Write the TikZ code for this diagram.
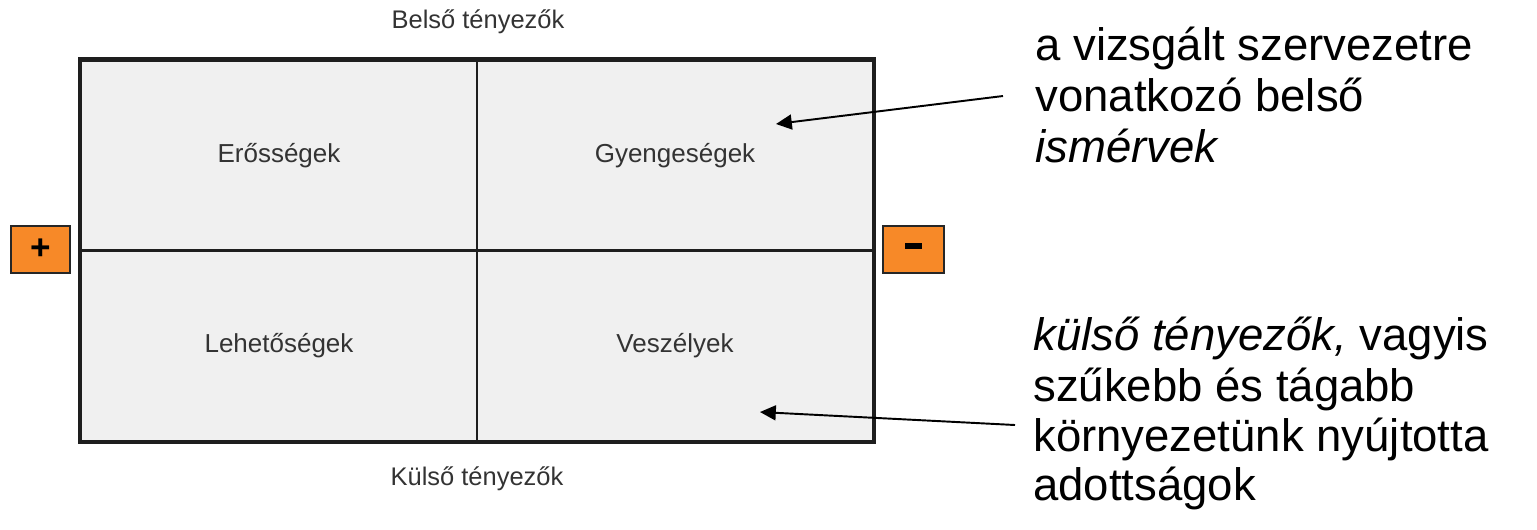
\documentclass[tikz,border=0pt]{standalone}
\usepackage{fontspec}
\setmainfont{Liberation Sans}
\usetikzlibrary{arrows.meta}
\definecolor{quadfill}{RGB}{240,240,240}
\definecolor{signorange}{RGB}{247,137,40}
\definecolor{gridline}{RGB}{30,30,30}
\begin{document}
\begin{tikzpicture}[x=0.02cm,y=-0.02cm,
  quad/.style={draw=gridline,line width=1.5pt,fill=quadfill,minimum width=7.92cm,minimum height=3.81cm,inner sep=0pt,font=\fontsize{14.8}{17}\selectfont,text=black!80},
  axislabel/.style={anchor=base,font=\fontsize{14.5}{17}\selectfont,text=black!80},
  signbox/.style={draw=black!85,line width=1.1pt,fill=signorange,minimum height=0.94cm,inner sep=0pt,font=\fontsize{20}{22}\bfseries\selectfont},
  note/.style={anchor=base west,font=\fontsize{25.9}{28}\selectfont,inner sep=0pt},
  pointer/.style={line width=1.1pt,-{Triangle[length=9pt,width=8.5pt]}}]
\useasboundingbox (0,0) rectangle (1537,529);
% quadrants
\node[quad] (q1) at (279,155.5) {Erősségek};
\node[quad] (q2) at (675,155.5) {Gyengeségek};
\node[quad] (q3) at (279,346) {Lehetőségek};
\node[quad] (q4) at (675,346) {Veszélyek};
\draw[gridline,line width=1.8pt] (q1.north west) rectangle (q4.south east);
% axis labels
\node[axislabel] (top) at (478,28) {Belső tényezők};
\node[axislabel] (bottom) at (477,485) {Külső tényezők};
% sign boxes
\node[signbox,minimum width=1.18cm] (plus) at (40.5,249.5) {+};
\node[signbox,minimum width=1.22cm] (minus) at (913.5,249.5) {\raisebox{0.4ex}{\rule{0.34cm}{3.2pt}}};
% notes
\node[note] (r1) at (1035,60) {a vizsgált szervezetre};
\node[note] (r2) at (1035,111) {vonatkozó belső};
\node[note] (r3) at (1035,162) {\itshape ismérvek};
\node[note] (s1) at (1033,350) {\textit{külső tényezők,} vagyis};
\node[note] (s2) at (1033,401) {szűkebb és tágabb};
\node[note] (s3) at (1033,451) {környezetünk nyújtotta};
\node[note] (s4) at (1033,500) {adottságok};
% pointers
\coordinate (p1s) at (1003,96);
\coordinate (p1e) at (776,124);
\coordinate (p2s) at (1015,425);
\coordinate (p2e) at (760,412);
\draw[pointer] (p1s) -- (p1e);
\draw[pointer] (p2s) -- (p2e);
\end{tikzpicture}
\end{document}
